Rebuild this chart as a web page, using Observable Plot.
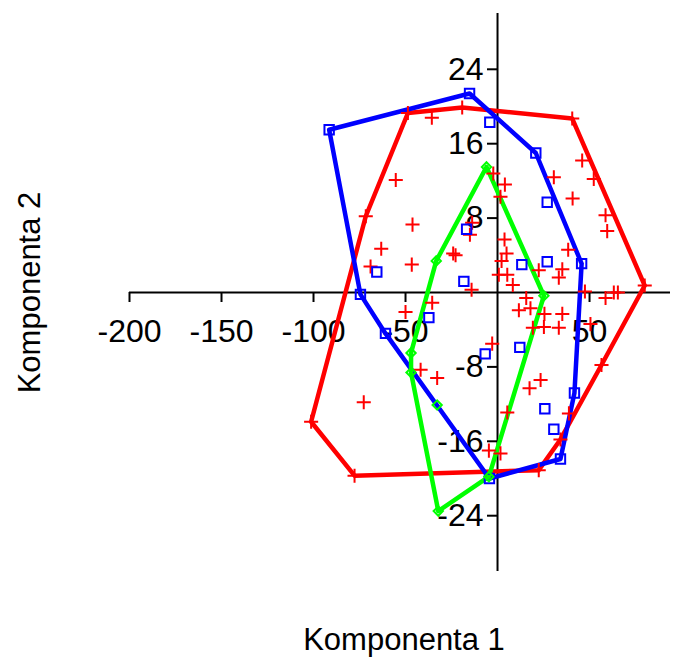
<!DOCTYPE html>
<html>
<head>
<meta charset="utf-8">
<script src="https://cdn.jsdelivr.net/npm/d3@7"></script>
<script src="https://cdn.jsdelivr.net/npm/@observablehq/plot@0.6"></script>
<style>
  html, body { margin: 0; padding: 0; background: #fff; }
  svg { display: block; }
</style>
</head>
<body>
<div id="chart"></div>
<script>
// Component scores (Komponenta 1, Komponenta 2) per group
const redPoints = [
  [-48.7, 19.3], [-19.2, 19.9], [-35.7, 18.8], [40.6, 18.7], [80, 0.75],
  [56.5, -7.8], [34.2, -15.8], [22.4, -19.1], [-77.7, -19.7], [-101.3, -13.9],
  [-71.6, 8.2], [-55.3, 12.1], [-46.2, 7.3], [-63.2, 4.7], [-69, 2.8],
  [-46.6, 3.0], [-24.1, 4.2], [-22.8, 4.0], [-15.0, 6.2], [-14.1, 0.3],
  [-2.3, 12.8], [4.0, 11.6], [1.6, 10.3], [46, 14.2], [52.3, 12.2],
  [30.6, 12.4], [40.8, 10.1], [58.7, 8.3], [59.6, 6.6], [38.4, 4.6],
  [35.2, 2.5], [33.3, 1.6], [22.4, 2.4], [8.3, 0.8], [5.3, 1.9],
  [0.7, 1.9], [2.2, 3.4], [4.9, 4.2], [3.8, 5.7], [47.5, 0.1],
  [63.2, 0.0], [65.4, 0.0], [58.7, -0.6], [15.6, -0.6], [11.6, -1.9],
  [17.9, -1.7], [25.5, -2.3], [35.2, -2.3], [19.2, -3.8], [25.2, -3.7],
  [33.3, -3.8], [50.5, -3.4], [-2.9, -5.5], [23.4, -9.4], [17.4, -10.3],
  [5.3, -12.9], [38.8, -13.0], [-4.7, -17.0], [1.6, -17.3], [-50, -2.1],
  [-35.5, -1.1], [-41.8, -8.3], [-32.8, -9.2], [-72.7, -11.8], [-13.8, 7.5]
];
const bluePoints = [
  [-91.5, 17.5], [-15.2, 21.4], [-4.2, 18.3], [20.8, 15.0], [27, 9.7],
  [45.7, 3.1], [13.2, 3.0], [27, 3.3], [-16.8, 6.8], [-18.3, 1.2],
  [-65.6, 2.2], [-74.5, -0.2], [-60.9, -4.4], [-37.3, -2.7], [-6.7, -6.6],
  [12.1, -5.9], [41.8, -10.8], [25.7, -12.5], [30.6, -14.7], [34.2, -17.9],
  [-4.4, -20.0]
];
const greenPoints = [
  [-6, 13.5], [25.2, -0.35], [-4.7, -19.8], [-32.2, -23.5], [-47.0, -8.6],
  [-47.0, -6.5], [-33.3, 3.4], [-32.8, -12.1]
];
const xTicks = [-200, -150, -100, -50, 50];
const yTicks = [-24, -16, -8, 8, 16, 24];
const xTitle = "Komponenta 1";
const yTitle = "Komponenta 2";

const toRows = (pts) => pts.map(([x, y]) => ({x, y}));
const hull = (pts) => { const h = d3.polygonHull(pts); return toRows([...h, h[0]]); };

const chart = Plot.plot({
  width: 675,
  height: 661,
  marginLeft: 129,
  marginRight: 5,
  marginTop: 13,
  marginBottom: 90,
  x: {domain: [-200, 94], axis: null},
  y: {domain: [-30, 30], axis: null},
  style: {fontFamily: "'Liberation Sans', Arial, sans-serif", background: "#fff", color: "#000"},
  marks: [
    Plot.ruleY([0], {stroke: "#000", strokeWidth: 2}),
    Plot.ruleX([0], {stroke: "#000", strokeWidth: 2}),
    Plot.ruleX(xTicks, {x: d => d, y1: 0, y2: 0, insetBottom: -10, stroke: "#000", strokeWidth: 2}),
    Plot.ruleY(yTicks, {y: d => d, x1: 0, x2: 0, insetLeft: -10, stroke: "#000", strokeWidth: 2}),
    Plot.text(xTicks, {x: d => d, y: 0, text: d => String(d), dy: 39, fontSize: 32, fill: "#000"}),
    Plot.text(yTicks, {x: 0, y: d => d, text: d => String(d), textAnchor: "end", dx: -14, fontSize: 32, fill: "#000"}),
    Plot.line(hull(redPoints), {x: "x", y: "y", stroke: "#ff0000", strokeWidth: 4.5}),
    Plot.line(hull(bluePoints), {x: "x", y: "y", stroke: "#0000ff", strokeWidth: 4.5}),
    Plot.line(hull(greenPoints), {x: "x", y: "y", stroke: "#00ff00", strokeWidth: 4.5}),
    Plot.dot(toRows(redPoints), {x: "x", y: "y", symbol: "plus", r: 4.6, stroke: "#ff0000", strokeWidth: 2}),
    Plot.dot(toRows(bluePoints), {x: "x", y: "y", symbol: "square", r: 5.3, fill: "none", stroke: "#0000ff", strokeWidth: 2}),
    Plot.dot(toRows(greenPoints), {x: "x", y: "y", symbol: "diamond2", r: 4.2, fill: "none", stroke: "#00ff00", strokeWidth: 2}),
    Plot.text([xTitle], {frameAnchor: "bottom", textAnchor: "middle", lineAnchor: "middle", dy: 69, dx: 4, fontSize: 31, fill: "#000"}),
    Plot.text([yTitle], {frameAnchor: "left", textAnchor: "middle", lineAnchor: "middle", dx: -99, rotate: -90, fontSize: 31, fill: "#000"})
  ]
});
document.getElementById("chart").appendChild(chart);
</script>
</body>
</html>
